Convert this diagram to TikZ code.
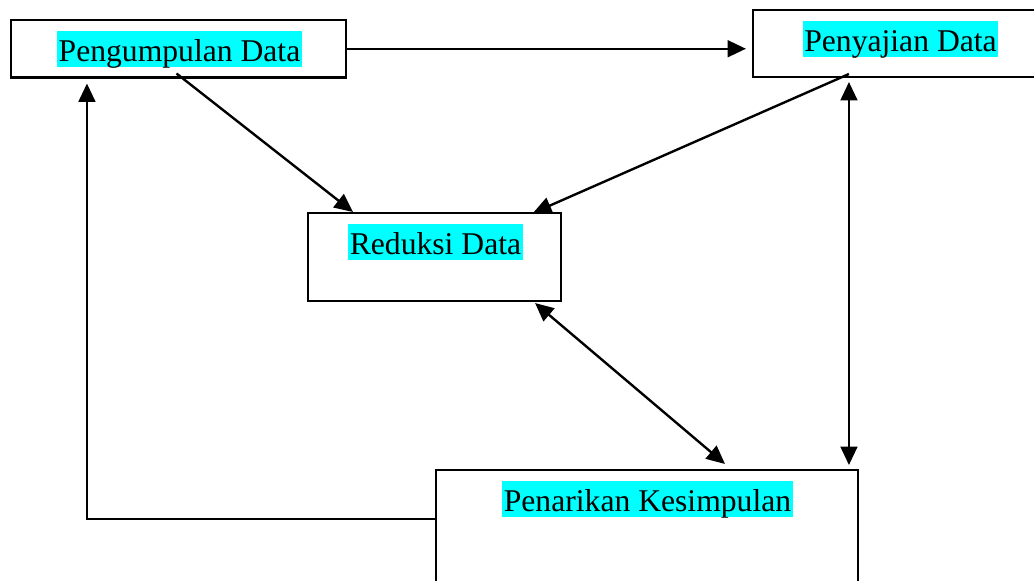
\documentclass[tikz,border=0pt]{standalone}
\usepackage{fontspec}
\setmainfont{Liberation Serif}
\usetikzlibrary{arrows.meta,positioning,calc}
\definecolor{hlcyan}{RGB}{0,255,255}
\tikzset{
  % plain framed boxes
  stagebox/.style={draw=black, line width=1.7pt, fill=white, inner sep=0pt, outer sep=0pt},
  % highlighted titles inside the boxes
  stagetitle/.style={fill=hlcyan, anchor=north, inner xsep=1pt, inner ysep=0pt,
    text height=21.2pt, text depth=4.3pt, font=\fontsize{22.5}{26}\selectfont},
  % connectors
  flowln/.style={-{Triangle[length=0.46cm,width=0.42cm]}, line width=1.7pt},
  bothln/.style={{Triangle[length=0.46cm,width=0.42cm]}-{Triangle[length=0.46cm,width=0.42cm]}, line width=1.7pt},
}
\begin{document}
\begin{tikzpicture}[x=0.025cm, y=-0.025cm]
    \path[use as bounding box, clip] (0,0) rectangle (1034,580);
    % the four stages
    \node[stagebox, minimum width=8.375cm, minimum height=1.4375cm] (kumpul) at (178.5,48.75) {};
    \node[stagebox, minimum width=7.375cm, minimum height=1.675cm] (sajian) at (900.5,43.5) {};
    \node[stagebox, minimum width=6.325cm, minimum height=2.2cm] (reduksi) at (434.5,257) {};
    \node[stagebox, minimum width=10.55cm, minimum height=3.25cm] (tarik) at (647,535) {};
    \node[stagetitle] (kumpulT) at ($(kumpul.north)+(1,11)$) {Pengumpulan Data};
    \node[stagetitle] (sajianT) at ($(sajian.north)+(0,11)$) {Penyajian Data};
    \node[stagetitle] (reduksiT) at ($(reduksi.north)+(1,11)$) {Reduksi Data};
    \node[stagetitle] (tarikT) at ($(tarik.north)+(0.5,11)$) {Penarikan Kesimpulan};
    % flows between stages
    \draw[flowln, shorten >=5pt] (kumpul.east) -- (kumpul.east -| sajian.west);
    \draw[flowln] ($(kumpul.south)+(-2,-4)$) -- ($(reduksi.north west)+(45,-1)$);
    \draw[flowln] ($(sajian.south west)+(96,-3)$) -- ($(reduksi.north east)+(-28,0)$);
    \coordinate (vtop) at ($(sajian.south west)+(96,5)$);
    \draw[bothln] (vtop) -- (vtop |- {$(tarik.north)+(0,-5)$});
    \draw[bothln] ($(reduksi.south east)+(-26,2)$) -- ($(tarik.north)+(78,-6)$);
    % feedback to data collection
    \draw[flowln] ($(tarik.north west)+(0,49)$) -| ($(kumpul.south west)+(76,6)$);
\end{tikzpicture}
\end{document}
